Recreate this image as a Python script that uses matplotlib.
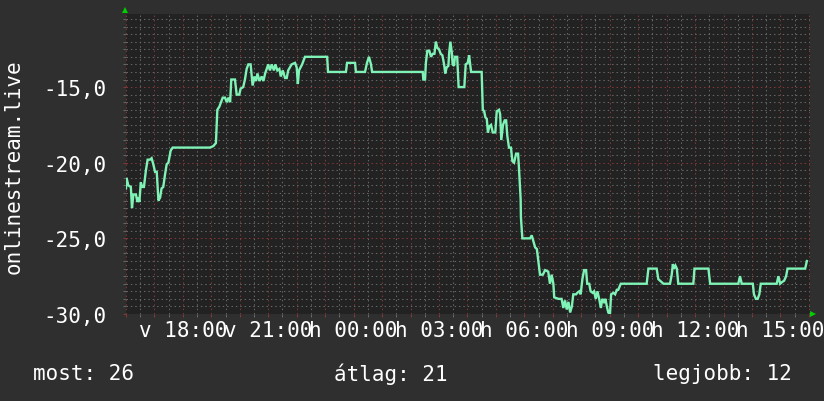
import numpy as np
import matplotlib
matplotlib.use('Agg')
import matplotlib.pyplot as plt
from matplotlib.ticker import MultipleLocator, FixedLocator, FuncFormatter

# hours since Sunday 16:00
hours = [0.00, 0.02, 0.08, 0.17, 0.21, 0.26, 0.35, 0.40, 0.43, 0.47, 0.52, 0.57, 0.63, 0.70, 0.76, 0.84,
         0.90, 0.96, 1.02, 1.08, 1.14, 1.20, 1.25, 1.31, 1.37, 1.43, 1.49, 1.57, 1.64, 2.95, 3.07, 3.16,
         3.21, 3.28, 3.40, 3.48, 3.54, 3.60, 3.66, 3.70, 3.83, 3.89, 3.98, 4.03, 4.12, 4.18, 4.24, 4.30,
         4.38, 4.45, 4.51, 4.57, 4.62, 4.69, 4.77, 4.83, 4.89, 5.00, 5.06, 5.12, 5.20, 5.25, 5.32, 5.39,
         5.44, 5.51, 5.59, 5.65, 5.70, 5.82, 5.94, 6.00, 6.04, 6.08, 6.19, 6.29, 7.07, 7.10, 7.73, 7.77,
         8.05, 8.08, 8.40, 8.47, 8.54, 8.61, 8.65, 10.43, 10.45, 10.51, 10.54, 10.59, 10.66, 10.72, 10.78, 10.84,
         10.89, 10.94, 11.00, 11.06, 11.12, 11.18, 11.22, 11.27, 11.33, 11.36, 11.40, 11.45, 11.48, 11.53, 11.56, 11.64,
         11.69, 11.89, 11.94, 12.01, 12.06, 12.09, 12.13, 12.50, 12.54, 12.59, 12.63, 12.68, 12.72, 12.77, 12.83, 12.89,
         12.98, 13.03, 13.11, 13.15, 13.19, 13.25, 13.31, 13.36, 13.40, 13.46, 13.53, 13.58, 13.64, 13.71, 13.78, 13.81,
         13.87, 13.88, 13.93, 14.20, 14.26, 14.32, 14.38, 14.44, 14.49, 14.55, 14.65, 14.73, 14.84, 14.90, 14.96, 15.02,
         15.05, 15.20, 15.31, 15.37, 15.43, 15.49, 15.55, 15.61, 15.67, 15.72, 15.82, 15.86, 15.93, 15.98, 16.04, 16.10,
         16.17, 16.21, 16.28, 16.33, 16.40, 16.45, 16.51, 16.57, 16.63, 16.69, 16.74, 16.80, 16.85, 16.90, 16.95, 17.01,
         17.05, 17.13, 17.19, 17.25, 17.30, 17.39, 18.30, 18.36, 18.65, 18.71, 18.83, 18.89, 19.12, 19.18, 19.22, 19.26,
         19.31, 19.36, 19.41, 19.94, 19.98, 20.47, 20.53, 21.52, 21.58, 21.64, 22.03, 22.07, 22.14, 22.20, 22.26, 22.31,
         22.87, 22.93, 22.99, 23.05, 23.13, 23.20, 23.25, 23.87, 23.93]
values = [-21.7, -21.0, -21.5, -21.6, -23.0, -22.1, -22.1, -22.6, -22.3, -22.6, -21.3, -21.6, -21.6, -20.5, -19.8, -19.8,
          -19.7, -20.1, -20.6, -20.6, -22.5, -22.3, -21.7, -21.6, -20.8, -20.1, -20.0, -19.2, -19.0, -19.0, -18.9, -18.7,
          -16.5, -16.3, -15.7, -15.7, -16.0, -15.7, -16.0, -14.5, -14.5, -15.5, -15.5, -15.1, -15.0, -14.5, -13.8, -13.5,
          -13.5, -14.9, -14.3, -14.6, -14.1, -14.6, -14.3, -14.6, -14.1, -13.5, -13.9, -13.5, -13.9, -13.5, -13.9, -13.8,
          -14.3, -13.9, -14.4, -14.4, -13.9, -13.5, -13.4, -13.7, -14.8, -13.9, -13.5, -13.0, -13.0, -14.0, -14.0, -13.4,
          -13.4, -14.0, -14.0, -13.4, -13.0, -13.5, -14.0, -14.0, -14.5, -14.5, -13.4, -12.6, -12.6, -13.0, -12.8, -12.8,
          -12.0, -12.4, -12.5, -12.8, -12.9, -13.5, -14.1, -13.7, -13.6, -12.7, -12.0, -12.7, -13.5, -13.6, -13.0, -13.0,
          -15.0, -15.0, -13.5, -13.4, -12.9, -13.4, -14.0, -14.0, -16.5, -16.6, -17.0, -17.1, -18.0, -17.6, -17.5, -18.0,
          -18.0, -16.6, -16.5, -16.8, -18.5, -17.5, -17.2, -17.2, -18.2, -19.0, -19.0, -19.9, -20.0, -19.4, -19.4, -20.3,
          -22.4, -23.6, -25.0, -25.0, -24.8, -25.2, -25.6, -25.7, -26.5, -27.4, -27.4, -27.1, -27.2, -28.0, -27.4, -28.0,
          -28.9, -29.0, -29.0, -29.6, -29.1, -29.7, -29.2, -29.9, -29.5, -28.7, -28.7, -28.6, -28.5, -28.7, -27.7, -27.1,
          -27.1, -28.0, -28.0, -28.5, -28.6, -28.5, -29.0, -28.5, -29.0, -29.6, -29.0, -29.2, -29.0, -29.5, -29.9, -30.0,
          -28.7, -28.6, -28.7, -28.4, -28.4, -28.0, -28.0, -27.0, -27.0, -27.7, -27.9, -28.0, -28.0, -27.4, -26.7, -27.0,
          -26.8, -27.0, -28.0, -28.0, -27.0, -27.0, -28.0, -28.0, -27.5, -28.0, -28.0, -28.7, -29.0, -29.0, -28.7, -28.0,
          -28.0, -27.5, -28.0, -27.9, -27.8, -27.5, -27.0, -27.0, -26.5]

tick_hours = [2, 5, 8, 11, 14, 17, 20, 23]
tick_labels = ['v 18:00', 'v 21:00', 'h 00:00', 'h 03:00', 'h 06:00', 'h 09:00', 'h 12:00', 'h 15:00']
y_ticks = [-30, -25, -20, -15]
y_labels = ['-30,0', '-25,0', '-20,0', '-15,0']
series_name = 'onlinestream.live'
summary_labels = ['most', 'átlag', 'legjobb']
summary_values = [26, 21, 12]

FONT = 'DejaVu Sans Mono'
FS = 15
BG = '#2f2f2f'
PLOT_BG = '#222222'
GRID_MINOR = '#666666'
GRID_MAJOR = '#843838'
LINE = '#7ff2b6'

W, H = 824, 402
fig = plt.figure(figsize=(W / 100, H / 100), dpi=100, facecolor=BG)
ax = fig.add_axes([126 / W, 87 / H, 684 / W, 300 / H])
ax.set_facecolor(PLOT_BG)
ax.set_xlim(0, 24.04)
ax.set_ylim(-30, -10.17)

# x grid: majors every hour (red), minors every half hour (gray)
ax.xaxis.set_major_locator(MultipleLocator(1))
ax.xaxis.set_minor_locator(MultipleLocator(0.5))
lab_map = dict(zip(tick_hours, tick_labels))
ax.xaxis.set_major_formatter(FuncFormatter(lambda v, p: lab_map.get(int(round(v)), '') if abs(v - round(v)) < 1e-6 else ''))
ax.yaxis.set_major_locator(FixedLocator([-30, -25, -20, -15, -10]))
ax.yaxis.set_minor_locator(MultipleLocator(0.5))
ymap = dict(zip(y_ticks, y_labels))
ax.yaxis.set_major_formatter(FuncFormatter(lambda v, p: ymap.get(int(round(v)), '')))

dash = (0, (1.4, 2.8))
ax.grid(True, which='minor', color=GRID_MINOR, linewidth=0.75, linestyle=dash)
ax.grid(True, which='major', color=GRID_MAJOR, linewidth=0.75, linestyle=dash)
ax.set_axisbelow(True)

for s in ax.spines.values():
    s.set_visible(False)

ax.tick_params(axis='both', which='major', length=2.5, width=0.75, color=GRID_MAJOR,
               labelcolor='white', labelsize=FS)
ax.tick_params(axis='both', which='minor', length=2, width=0.75, color=GRID_MINOR)
ax.tick_params(axis='x', which='major', pad=2.0)
ax.tick_params(axis='y', which='major', pad=11.5)
for lab in ax.get_xticklabels() + ax.get_yticklabels():
    lab.set_fontfamily(FONT)

ax.plot(hours, values, color=LINE, linewidth=1.7, solid_joinstyle='miter', zorder=3)

# axis arrows
ax.plot([-0.0015], [1.013], marker='^', markersize=4.2, color='#00d000', transform=ax.transAxes,
        clip_on=False, zorder=5, markeredgewidth=0)
ax.plot([1.0045], [0.0015], marker='>', markersize=4.2, color='#00d000', transform=ax.transAxes,
        clip_on=False, zorder=5, markeredgewidth=0)

fig.text(14 / W, 1 - 167 / H, series_name, rotation=90, va='center', ha='center',
         color='white', fontsize=FS, fontfamily=FONT)

fig.text(33 / W, 1 - 374 / H, f'{summary_labels[0]}: {summary_values[0]}', va='center', ha='left',
         color='white', fontsize=FS, fontfamily=FONT)
fig.text(334 / W, 1 - 374 / H, f'{summary_labels[1]}: {summary_values[1]}', va='center', ha='left',
         color='white', fontsize=FS, fontfamily=FONT)
fig.text(792 / W, 1 - 374 / H, f'{summary_labels[2]}: {summary_values[2]}', va='center', ha='right',
         color='white', fontsize=FS, fontfamily=FONT)

fig.savefig('out.png', dpi=100, facecolor=BG)
